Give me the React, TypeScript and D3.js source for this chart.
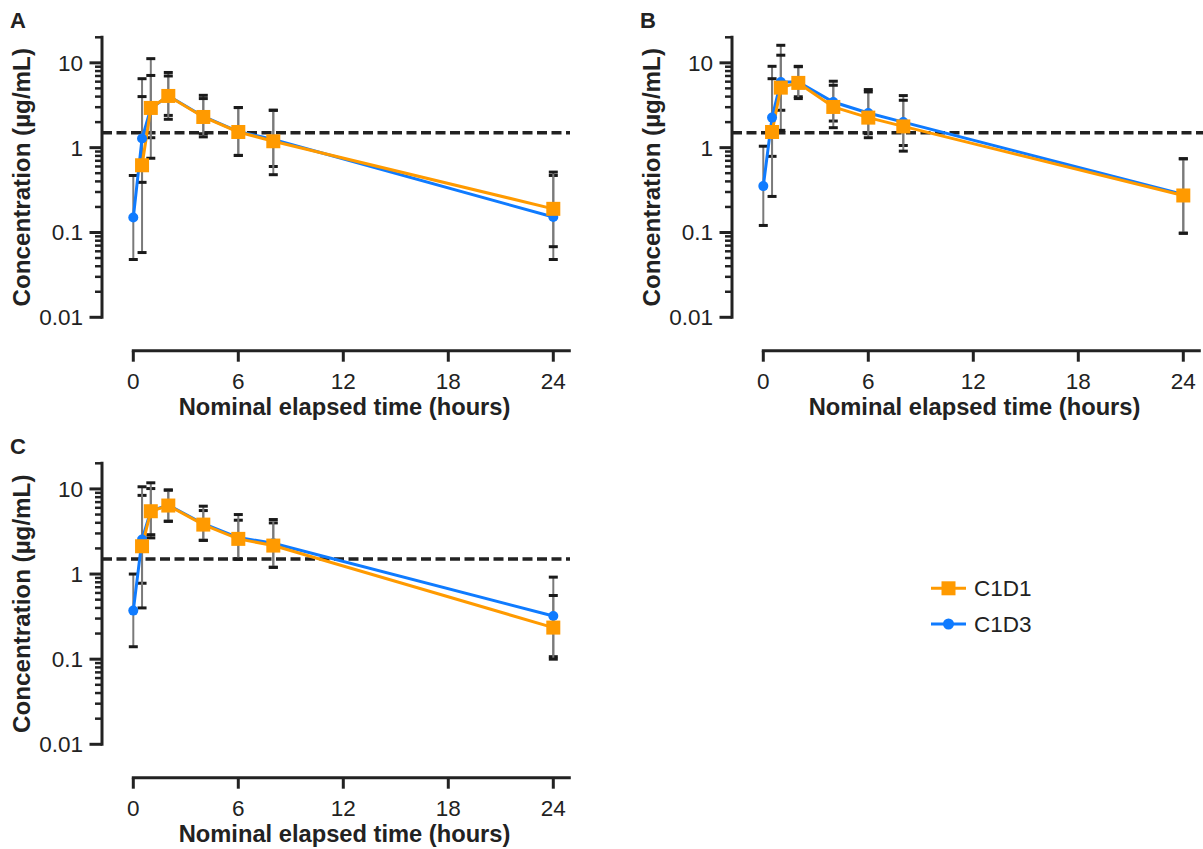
import React from "react";
import * as d3 from "d3";

// ---- data ----
const TIMES = [0, 0.5, 1, 2, 4, 6, 8, 24];
const X_TICKS = [0, 6, 12, 18, 24];
const Y_TICKS = [0.01, 0.1, 1, 10];
const Y_TICK_LABELS = ["0.01", "0.1", "1", "10"];
const THRESHOLD = 1.5;
const SERIES_NAMES = ["C1D1", "C1D3"];
const PANEL_LABELS = ["A", "B", "C"];

// Panel A
const aC1D1 = [NaN, 0.62, 2.94, 4.07, 2.3, 1.53, 1.19, 0.19];
const aC1D1Hi = [NaN, 4.0, 7.1, 7.0, 3.79, 2.97, 2.76, 0.515];
const aC1D1Lo = [NaN, 0.39, 0.75, 2.16, 1.34, 0.81, 0.48, 0.068];
const aC1D3 = [0.15, 1.28, 2.9, 4.1, 2.33, 1.55, 1.25, 0.152];
const aC1D3Hi = [0.47, 6.5, 11.2, 7.7, 4.14, 2.97, 2.76, 0.47];
const aC1D3Lo = [0.048, 0.058, 1.31, 2.4, 1.46, 0.81, 0.6, 0.048];

// Panel B
const bC1D1 = [NaN, 1.53, 5.1, 5.8, 3.02, 2.26, 1.78, 0.273];
const bC1D1Hi = [NaN, 6.5, 12.3, 9.0, 5.44, 4.54, 3.62, 0.74];
const bC1D1Lo = [NaN, 0.266, 1.6, 3.79, 1.72, 1.31, 0.91, 0.098];
const bC1D3 = [0.352, 2.26, 5.95, 5.95, 3.45, 2.56, 2.0, 0.28];
const bC1D3Hi = [1.04, 9.1, 16.1, 9.1, 6.07, 4.84, 4.11, 0.74];
const bC1D3Lo = [0.121, 0.79, 2.76, 3.98, 2.06, 1.46, 1.06, 0.098];

// Panel C
const cC1D1 = [NaN, 2.12, 5.47, 6.38, 3.81, 2.59, 2.16, 0.235];
const cC1D1Hi = [NaN, 10.6, 11.8, 9.7, 6.27, 5.0, 4.37, 0.56];
const cC1D1Lo = [NaN, 0.4, 2.9, 4.17, 2.49, 1.5, 1.2, 0.1];
const cC1D3 = [0.372, 2.54, 5.5, 6.45, 3.9, 2.68, 2.3, 0.322];
const cC1D3Hi = [1.0, 8.4, 10.1, 9.7, 5.57, 4.29, 3.99, 0.92];
const cC1D3Lo = [0.14, 0.78, 2.66, 4.17, 2.49, 1.5, 1.2, 0.107];

// ---- styles ----
const ORANGE = "#FF9A00";
const BLUE = "#0F7BFF";
const INK = "#222222";
const FONT = "'Liberation Sans', Arial, Helvetica, sans-serif";

type Series = { v: number[]; hi: number[]; lo: number[] };
type PanelCfg = {
  label: string;
  axisX: number;
  x0: number;
  yTop: number;
  yBottom: number;
  xAxisY: number;
  dashEnd: number;
  orange: Series;
  blue: Series;
};

const panels: PanelCfg[] = [
  {
    label: PANEL_LABELS[0],
    axisX: 102,
    x0: 133.3,
    yTop: 37.3,
    yBottom: 317.3,
    xAxisY: 350.7,
    dashEnd: 570,
    orange: { v: aC1D1, hi: aC1D1Hi, lo: aC1D1Lo },
    blue: { v: aC1D3, hi: aC1D3Hi, lo: aC1D3Lo },
  },
  {
    label: PANEL_LABELS[1],
    axisX: 732,
    x0: 763.3,
    yTop: 37.3,
    yBottom: 317.3,
    xAxisY: 350.7,
    dashEnd: 1203,
    orange: { v: bC1D1, hi: bC1D1Hi, lo: bC1D1Lo },
    blue: { v: bC1D3, hi: bC1D3Hi, lo: bC1D3Lo },
  },
  {
    label: PANEL_LABELS[2],
    axisX: 102,
    x0: 133.3,
    yTop: 463.3,
    yBottom: 744.3,
    xAxisY: 777.7,
    dashEnd: 570,
    orange: { v: cC1D1, hi: cC1D1Hi, lo: cC1D1Lo },
    blue: { v: cC1D3, hi: cC1D3Hi, lo: cC1D3Lo },
  },
];

const minorTicks: number[] = [];
for (let e = -2; e <= 1; e++) {
  for (let k = 2; k <= 9; k++) {
    const v = k * Math.pow(10, e);
    if (v <= 20.0001) minorTicks.push(v);
  }
}

function Panel({ p }: { p: PanelCfg }) {
  const x = d3.scaleLinear().domain([0, 25]).range([p.x0, p.x0 + 25 * 17.5]);
  const y = d3.scaleLog().domain([0.01, 20]).range([p.yBottom, p.yTop]);
  const line = d3
    .line<number>()
    .defined((d) => !isNaN(d))
    .x((_, i) => x(TIMES[i]))
    .y((d) => y(d));

  const errBars = (s: Series, key: string) =>
    TIMES.map((t, i) => {
      if (isNaN(s.v[i])) return null;
      const cx = x(t);
      return (
        <g key={key + i}>
          <line x1={cx} x2={cx} y1={y(s.hi[i])} y2={y(s.lo[i])} stroke="#7a7a7a" strokeWidth={2} />
          <line x1={cx - 4.5} x2={cx + 4.5} y1={y(s.hi[i])} y2={y(s.hi[i])} stroke="#1a1a1a" strokeWidth={3} />
          <line x1={cx - 4.5} x2={cx + 4.5} y1={y(s.lo[i])} y2={y(s.lo[i])} stroke="#1a1a1a" strokeWidth={3} />
        </g>
      );
    });

  const xMid = (x(0) + x(25)) / 2 - 7.5;
  const yMid = (p.yTop + p.yBottom) / 2;

  return (
    <g>
      {/* panel label */}
      <text x={p.axisX - 92} y={p.yTop - 9.5} fontFamily={FONT} fontWeight="bold" fontSize={22} fill={INK}>
        {p.label}
      </text>

      {/* y axis */}
      <line x1={p.axisX} x2={p.axisX} y1={p.yTop - 1.5} y2={p.yBottom + 1.5} stroke={INK} strokeWidth={3} />
      {minorTicks.map((v) => (
        <line key={"mt" + v} x1={p.axisX - 7} x2={p.axisX} y1={y(v)} y2={y(v)} stroke={INK} strokeWidth={2.5} />
      ))}
      {Y_TICKS.map((v, i) => (
        <g key={"yt" + v}>
          <line x1={p.axisX - 12.5} x2={p.axisX} y1={y(v)} y2={y(v)} stroke={INK} strokeWidth={3} />
          <text
            x={p.axisX - 19}
            y={y(v)}
            dy="0.35em"
            textAnchor="end"
            fontFamily={FONT}
            fontSize={22.5}
            fill={INK}
          >
            {Y_TICK_LABELS[i]}
          </text>
        </g>
      ))}
      <text
        transform={`translate(${p.axisX - 80},${yMid}) rotate(-90)`}
        textAnchor="middle"
        dy="0.35em"
        fontFamily={FONT}
        fontWeight="bold"
        fontSize={24.2}
        fill={INK}
      >
        Concentration (µg/mL)
      </text>

      {/* x axis */}
      <line x1={x(0) - 1.5} x2={x(25)} y1={p.xAxisY} y2={p.xAxisY} stroke={INK} strokeWidth={3} />
      {X_TICKS.map((t) => (
        <g key={"xt" + t}>
          <line x1={x(t)} x2={x(t)} y1={p.xAxisY} y2={p.xAxisY + 11} stroke={INK} strokeWidth={3} />
          <text x={x(t)} y={p.xAxisY + 38.5} textAnchor="middle" fontFamily={FONT} fontSize={22.5} fill={INK}>
            {t}
          </text>
        </g>
      ))}
      <text x={xMid} y={p.xAxisY + 64.5} textAnchor="middle" fontFamily={FONT} fontWeight="bold" fontSize={23.7} fill={INK}>
        Nominal elapsed time (hours)
      </text>

      {/* threshold */}
      <line
        x1={p.axisX}
        x2={p.dashEnd}
        y1={y(THRESHOLD)}
        y2={y(THRESHOLD)}
        stroke={INK}
        strokeWidth={3.5}
        strokeDasharray="10 4.5"
      />

      {/* error bars */}
      {errBars(p.blue, "eb")}
      {errBars(p.orange, "eo")}

      {/* lines */}
      <path d={line(p.blue.v) || ""} fill="none" stroke={BLUE} strokeWidth={3} />
      <path d={line(p.orange.v) || ""} fill="none" stroke={ORANGE} strokeWidth={3} />

      {/* markers */}
      {TIMES.map((t, i) =>
        isNaN(p.blue.v[i]) ? null : <circle key={"cb" + i} cx={x(t)} cy={y(p.blue.v[i])} r={5} fill={BLUE} />
      )}
      {TIMES.map((t, i) =>
        isNaN(p.orange.v[i]) ? null : (
          <rect key={"ro" + i} x={x(t) - 7} y={y(p.orange.v[i]) - 7} width={14} height={14} fill={ORANGE} />
        )
      )}
    </g>
  );
}

export default function App() {
  return (
    <svg
      width={1203}
      height={849}
      viewBox="0 0 1203 849"
      style={{ position: "absolute", left: 0, top: 0, background: "#fff" }}
    >
      <rect x={0} y={0} width={1203} height={849} fill="#fff" />
      {panels.map((p) => (
        <Panel key={p.label} p={p} />
      ))}
      {/* legend */}
      <g>
        <line x1={931} x2={966} y1={588.3} y2={588.3} stroke={ORANGE} strokeWidth={3} />
        <rect x={948.5 - 7} y={588.3 - 7} width={14} height={14} fill={ORANGE} />
        <text x={974} y={588.3} dy="0.35em" fontFamily={FONT} fontSize={22.5} fill={INK}>
          {SERIES_NAMES[0]}
        </text>
        <line x1={931} x2={966} y1={624} y2={624} stroke={BLUE} strokeWidth={3} />
        <circle cx={948.5} cy={624} r={5.5} fill={BLUE} />
        <text x={974} y={624} dy="0.35em" fontFamily={FONT} fontSize={22.5} fill={INK}>
          {SERIES_NAMES[1]}
        </text>
      </g>
    </svg>
  );
}
